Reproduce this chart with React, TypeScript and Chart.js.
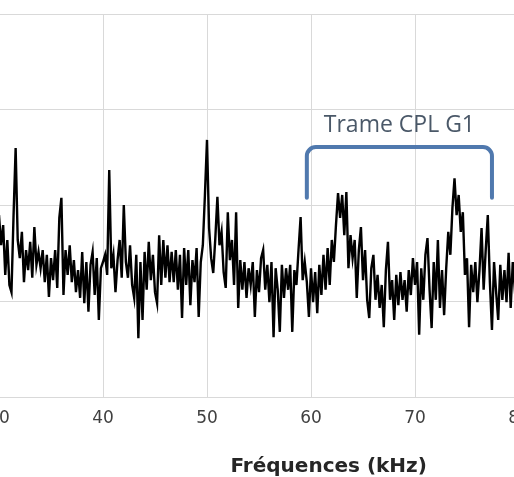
import React, { useEffect, useRef } from "react";
import { Chart, registerables } from "chart.js";

Chart.register(...registerables);

// Spectrum level (arbitrary dB units) sampled every 0.2 kHz, one array per 10 kHz band
const sampleStepKHz = 0.2;
const bandStartKHz = [30, 40, 50, 60, 70];

const level30to40 = [
  38.0, 31.7, 35.9, 25.5, 32.8, 23.4, 21.9, 38.0, 52.0, 32.8,
  29.0, 34.5, 24.0, 30.7, 26.5, 32.4, 24.9, 35.5, 27.6, 30.3,
  26.9, 30.7, 24.0, 29.7, 20.9, 29.0, 24.4, 30.7, 22.8, 37.4,
  41.6, 21.3, 30.7, 25.5, 31.7, 24.0, 28.6, 21.9, 26.5, 20.7,
  30.3, 19.6, 28.2, 17.8, 27.6, 30.3, 21.3, 29.0, 16.1, 26.9,
];
const level40to50 = [
  28.2, 29.7, 25.5, 47.4, 26.9, 29.7, 21.9, 28.6, 32.8, 24.9,
  40.1, 28.2, 24.9, 31.7, 23.4, 20.7, 29.7, 12.3, 28.2, 16.1,
  30.3, 22.4, 32.4, 24.4, 29.7, 21.9, 19.6, 33.8, 23.4, 32.8,
  24.9, 31.7, 24.0, 30.3, 24.0, 30.7, 22.4, 29.7, 16.5, 31.1,
  23.4, 30.7, 19.2, 28.6, 24.0, 31.1, 16.7, 28.2, 31.7, 42.2,
];
const level50to60 = [
  53.7, 35.3, 29.0, 25.9, 33.2, 41.8, 31.7, 34.5, 26.1, 22.8,
  38.6, 28.6, 32.8, 23.4, 38.6, 18.6, 28.6, 22.4, 28.2, 20.7,
  26.9, 23.4, 28.2, 16.7, 26.5, 21.9, 29.0, 30.7, 22.4, 27.6,
  19.8, 28.2, 12.5, 26.9, 22.4, 13.6, 27.6, 20.7, 26.9, 22.4,
  27.6, 13.6, 26.5, 23.4, 30.7, 37.6, 24.4, 28.2, 24.0, 16.7,
];
const level60to70 = [
  26.9, 19.8, 26.1, 17.5, 27.6, 21.3, 29.7, 22.4, 31.1, 23.4,
  32.8, 28.2, 35.9, 42.6, 37.4, 42.2, 33.8, 42.8, 26.9, 33.8,
  29.0, 32.8, 20.7, 30.7, 35.5, 24.4, 30.7, 20.3, 16.5, 26.9,
  29.7, 20.3, 25.5, 18.6, 23.4, 14.6, 26.5, 32.4, 20.3, 24.4,
  16.1, 25.5, 19.2, 26.1, 20.3, 24.4, 17.8, 26.5, 21.3, 29.0,
];
const level70to80 = [
  23.4, 28.2, 13.0, 26.9, 20.3, 29.7, 33.2, 22.4, 14.4, 28.2,
  20.3, 32.8, 18.6, 26.5, 17.1, 26.9, 34.5, 29.7, 39.5, 45.7,
  38.0, 42.2, 34.5, 38.6, 25.5, 29.0, 14.6, 27.6, 21.9, 28.2,
  19.8, 26.5, 35.3, 22.4, 30.7, 38.0, 24.0, 14.0, 28.2, 21.9,
  16.1, 27.6, 20.3, 26.5, 19.8, 30.1, 18.6, 28.2, 22.4, 25.5,
];
const bandLevels = [level30to40, level40to50, level50to60, level60to70, level70to80];

// Axes
const xMinKHz = 30;
const xMaxKHz = 80;
const xStepKHz = 10;
const yMin = 0;
const yMax = 80;
const yStep = 20;
const xAxisTitle = "Fréquences (kHz)";
const xAxisTitleCenterKHz = 61.7;

// Bracket annotation
const frameLabel = "Trame CPL G1";
const frameStartKHz = 59.6;
const frameEndKHz = 77.4;
const frameTopLevel = 52.2;
const frameFootLevel = 41.6;
const frameLabelLevel = 55.3;

const annotationPlugin = {
  id: "frameAnnotation",
  afterDraw(chart: any) {
    const { ctx, chartArea } = chart;
    const xs = chart.scales.x;
    const ys = chart.scales.y;
    ctx.save();
    const x0 = xs.getPixelForValue(frameStartKHz);
    const x1 = xs.getPixelForValue(frameEndKHz);
    const yTop = ys.getPixelForValue(frameTopLevel);
    const yFoot = ys.getPixelForValue(frameFootLevel);
    const r = 9;
    ctx.beginPath();
    ctx.moveTo(x0, yFoot);
    ctx.lineTo(x0, yTop + r);
    ctx.arcTo(x0, yTop, x0 + r, yTop, r);
    ctx.lineTo(x1 - r, yTop);
    ctx.arcTo(x1, yTop, x1, yTop + r, r);
    ctx.lineTo(x1, yFoot);
    ctx.strokeStyle = "#5079ae";
    ctx.lineWidth = 4;
    ctx.lineCap = "round";
    ctx.lineJoin = "round";
    ctx.stroke();

    ctx.fillStyle = "#4a5868";
    ctx.font = '23px "Open Sans"';
    ctx.textAlign = "center";
    ctx.textBaseline = "alphabetic";
    ctx.fillText(frameLabel, (x0 + x1) / 2, ys.getPixelForValue(frameLabelLevel));

    ctx.fillStyle = "#262626";
    ctx.font = 'bold 20px "DejaVu Sans"';
    ctx.fillText(xAxisTitle, xs.getPixelForValue(xAxisTitleCenterKHz), chartArea.bottom + 75);
    ctx.restore();
  },
};

export default function App() {
  const canvasRef = useRef<HTMLCanvasElement | null>(null);

  useEffect(() => {
    if (!canvasRef.current) return;
    const points = bandLevels.flatMap((band, b) =>
      band.map((v, i) => ({ x: bandStartKHz[b] + i * sampleStepKHz, y: v }))
    );
    const chart = new Chart(canvasRef.current, {
      type: "line",
      data: {
        datasets: [
          {
            data: points,
            borderColor: "#000000",
            borderWidth: 2.4,
            pointRadius: 0,
            tension: 0,
            fill: false,
          },
        ],
      },
      options: {
        animation: false,
        responsive: true,
        maintainAspectRatio: false,
        layout: { padding: { left: 39, right: 41, top: 14, bottom: 0 } },
        plugins: { legend: { display: false }, tooltip: { enabled: false }, title: { display: false } },
        scales: {
          x: {
            type: "linear",
            min: xMinKHz,
            max: xMaxKHz,
            afterFit: (s: any) => {
              s.height = 80;
            },
            ticks: {
              stepSize: xStepKHz,
              maxRotation: 0,
              autoSkip: false,
              padding: 11,
              color: "#404040",
              font: { family: '"DejaVu Sans"', size: 17 },
            },
            grid: { color: "#d9d9d9", lineWidth: 1, drawTicks: false },
            border: { display: false },
          },
          y: {
            min: yMin,
            max: yMax,
            afterFit: (s: any) => {
              s.width = 0;
            },
            ticks: { stepSize: yStep, display: false },
            grid: { color: "#d9d9d9", lineWidth: 1, drawTicks: false },
            border: { display: false },
          },
        },
      },
      plugins: [annotationPlugin],
    });
    return () => chart.destroy();
  }, []);

  return (
    <div
      style={{
        position: "fixed",
        left: 0,
        top: 0,
        width: 514,
        height: 477,
        overflow: "hidden",
        background: "#ffffff",
      }}
    >
      <div style={{ position: "absolute", left: -40, top: 0, width: 600, height: 477 }}>
        <canvas ref={canvasRef} />
      </div>
    </div>
  );
}
